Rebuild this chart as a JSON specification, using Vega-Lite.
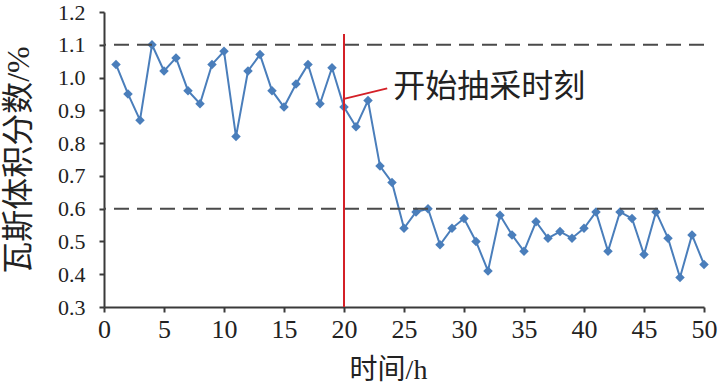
{
  "$schema": "https://vega.github.io/schema/vega-lite/v6.json",
  "width": 600,
  "height": 295,
  "autosize": {"type": "none"},
  "padding": {"left": 104, "top": 12, "right": 16, "bottom": 79},
  "background": "white",
  "config": {
    "view": {"stroke": null}
  },
  "datasets": {
    "series": [
      {"t": 1, "v": 1.04}, {"t": 2, "v": 0.95}, {"t": 3, "v": 0.87}, {"t": 4, "v": 1.10}, {"t": 5, "v": 1.02},
      {"t": 6, "v": 1.06}, {"t": 7, "v": 0.96}, {"t": 8, "v": 0.92}, {"t": 9, "v": 1.04}, {"t": 10, "v": 1.08},
      {"t": 11, "v": 0.82}, {"t": 12, "v": 1.02}, {"t": 13, "v": 1.07}, {"t": 14, "v": 0.96}, {"t": 15, "v": 0.91},
      {"t": 16, "v": 0.98}, {"t": 17, "v": 1.04}, {"t": 18, "v": 0.92}, {"t": 19, "v": 1.03}, {"t": 20, "v": 0.91},
      {"t": 21, "v": 0.85}, {"t": 22, "v": 0.93}, {"t": 23, "v": 0.73}, {"t": 24, "v": 0.68}, {"t": 25, "v": 0.54},
      {"t": 26, "v": 0.59}, {"t": 27, "v": 0.60}, {"t": 28, "v": 0.49}, {"t": 29, "v": 0.54}, {"t": 30, "v": 0.57},
      {"t": 31, "v": 0.50}, {"t": 32, "v": 0.41}, {"t": 33, "v": 0.58}, {"t": 34, "v": 0.52}, {"t": 35, "v": 0.47},
      {"t": 36, "v": 0.56}, {"t": 37, "v": 0.51}, {"t": 38, "v": 0.53}, {"t": 39, "v": 0.51}, {"t": 40, "v": 0.54},
      {"t": 41, "v": 0.59}, {"t": 42, "v": 0.47}, {"t": 43, "v": 0.59}, {"t": 44, "v": 0.57}, {"t": 45, "v": 0.46},
      {"t": 46, "v": 0.59}, {"t": 47, "v": 0.51}, {"t": 48, "v": 0.39}, {"t": 49, "v": 0.52}, {"t": 50, "v": 0.43}
    ],
    "limits": [{"level": 1.1}, {"level": 0.6}],
    "start": [{"t": 20, "lo": 0.3, "hi": 1.133}],
    "leader": [{"x1": 20, "y1": 0.935, "x2": 23.6, "y2": 0.967}],
    "note": [{"x": 24.1, "y": 0.97, "label": "开始抽采时刻"}]
  },
  "layer": [
    {
      "data": {"name": "series"},
      "mark": {"type": "line", "color": "#4a7ebb", "strokeWidth": 2,
        "point": {"shape": "diamond", "filled": true, "size": 90, "color": "#4a7ebb"}},
      "encoding": {
        "x": {"field": "t", "type": "quantitative", "scale": {"domain": [0, 50], "nice": false},
          "axis": {"values": [0,5,10,15,20,25,30,35,40,45,50],
            "grid": false, "domainColor": "#3a3a3a", "domainWidth": 2,
            "ticks": true, "tickColor": "#3a3a3a", "tickWidth": 2, "tickSize": 5,
            "labelFont": "Liberation Serif", "labelFontSize": 26, "labelColor": "#222222",
            "labelOverlap": false, "labelFlush": false, "labelPadding": 4,
            "title": "时间/h", "titleFont": "Liberation Serif, Noto Sans CJK SC", "titleFontWeight": "normal",
            "titleColor": "#222222", "titleFontSize": 28, "titlePadding": 14, "titleX": 284, "titleAlign": "center"}},
        "y": {"field": "v", "type": "quantitative", "scale": {"domain": [0.3, 1.2], "nice": false, "zero": false},
          "axis": {"values": [0.3,0.4,0.5,0.6,0.7,0.8,0.9,1.0,1.1,1.2], "format": ".1f", "tickCount": 10,
            "grid": false, "domainColor": "#3a3a3a", "domainWidth": 2,
            "ticks": true, "tickColor": "#3a3a3a", "tickWidth": 2, "tickSize": 5,
            "labelFont": "Liberation Serif", "labelFontSize": 22, "labelColor": "#222222",
            "labelOverlap": false, "labelFlush": false, "labelSeparation": 0, "labelPadding": 14,
            "title": "瓦斯体积分数/%", "titleFont": "Liberation Serif, Noto Sans CJK SC", "titleFontWeight": "normal",
            "titleColor": "#222222", "titleFontSize": 32, "titlePadding": 22}}
      }
    },
    {
      "data": {"name": "limits"},
      "mark": {"type": "rule", "color": "#4a4a4a", "strokeWidth": 2, "strokeDash": [15, 8]},
      "encoding": {
        "y": {"field": "level", "type": "quantitative"}
      }
    },
    {
      "data": {"name": "start"},
      "mark": {"type": "rule", "color": "#d42027", "strokeWidth": 2},
      "encoding": {
        "x": {"field": "t", "type": "quantitative"},
        "y": {"field": "lo", "type": "quantitative"},
        "y2": {"field": "hi"}
      }
    },
    {
      "data": {"name": "leader"},
      "mark": {"type": "rule", "color": "#d42027", "strokeWidth": 2},
      "encoding": {
        "x": {"field": "x1", "type": "quantitative"},
        "y": {"field": "y1", "type": "quantitative"},
        "x2": {"field": "x2"},
        "y2": {"field": "y2"}
      }
    },
    {
      "data": {"name": "note"},
      "mark": {"type": "text", "align": "left", "baseline": "middle", "font": "Noto Sans CJK SC", "fontSize": 32, "color": "#222222"},
      "encoding": {
        "x": {"field": "x", "type": "quantitative"},
        "y": {"field": "y", "type": "quantitative"},
        "text": {"field": "label"}
      }
    }
  ]
}
